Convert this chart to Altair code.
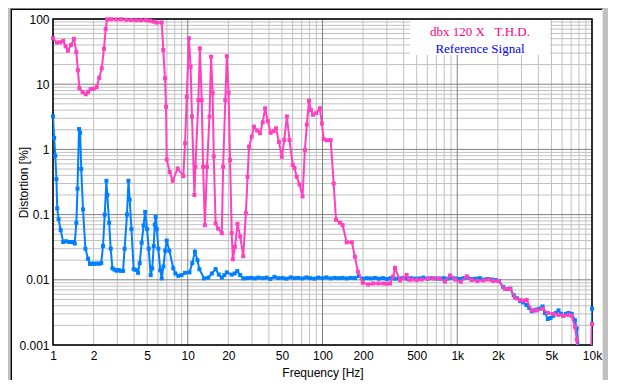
import altair as alt
import pandas as pd

# ---------------- data ----------------
blue_freq = [1.00, 1.02, 1.04, 1.06, 1.075, 1.10, 1.14, 1.19, 1.25, 1.32, 1.39, 1.45, 1.49, 1.52,
             1.56, 1.59, 1.62, 1.67, 1.74, 1.82, 1.88, 1.95, 2.02, 2.10, 2.19, 2.28, 2.35, 2.42,
             2.49, 2.53, 2.61, 2.68, 2.76, 2.86, 2.96, 3.07, 3.18, 3.31, 3.40, 3.54, 3.63, 3.71,
             3.82, 3.97, 4.12, 4.28, 4.40, 4.55, 4.70, 4.83, 4.99, 5.13, 5.31, 5.45, 5.59, 5.69,
             5.78, 5.90, 6.05, 6.25, 6.41, 6.60, 6.80, 6.98, 7.30, 7.81, 8.10, 8.51, 9.00, 9.55,
             10.3, 10.8, 11.3, 11.8, 12.2, 13.2, 14.2, 15.1, 16.1, 17.0, 17.9, 18.7, 19.5, 21.2,
             22.3, 23.3, 24.5, 25.8, 27.5, 29.5, 31.5, 33.5, 36.0, 38.5, 41.0, 44.0, 47.0, 50.5,
             54.0, 58.0, 62.0, 66.0, 71.0, 76.0, 81.0, 87.0, 93.0, 100, 107, 115, 123, 132, 141,
             151, 162, 174, 186, 199, 213, 228, 245, 262, 281, 301, 322, 345, 370, 396, 424, 455,
             487, 522, 559, 599, 642, 688, 737, 790, 846, 906, 971, 1040, 1114, 1194, 1279, 1370,
             1468, 1573, 1685, 1805, 1934, 2040, 2190, 2340, 2480, 2620, 2780, 2930, 3080, 3270,
             3420, 3570, 3740, 3880, 4080, 4300, 4480, 4700, 4920, 5160, 5400, 5640, 5880, 6120,
             6400, 6680, 7060, 7470, 7700, 7950, 8100, 9850, 10000]
blue_thd = [3.2, 1.5, 0.8, 0.35, 0.125, 0.085, 0.058, 0.038, 0.039, 0.038, 0.038, 0.036, 0.075, 0.25,
            2.05, 1.8, 0.5, 0.12, 0.03, 0.021, 0.0175, 0.0178, 0.0175, 0.0178, 0.0176, 0.018, 0.033, 0.1,
            0.33, 0.2, 0.075, 0.03, 0.015, 0.0143, 0.0138, 0.0141, 0.0137, 0.0137, 0.03, 0.1, 0.33, 0.17,
            0.06, 0.0145, 0.0142, 0.0128, 0.018, 0.037, 0.068, 0.11, 0.06, 0.03, 0.0118, 0.015, 0.033, 0.07,
            0.092, 0.06, 0.03, 0.014, 0.0105, 0.016, 0.028, 0.04, 0.028, 0.015, 0.0125, 0.0115, 0.0118, 0.0128,
            0.013, 0.018, 0.027, 0.02, 0.0145, 0.0105, 0.0108, 0.0125, 0.0146, 0.012, 0.0108, 0.0118, 0.013, 0.012,
            0.0125, 0.0136, 0.0118, 0.0105, 0.0106, 0.0107, 0.0105, 0.0108, 0.0106, 0.0108, 0.0103, 0.0111, 0.0106, 0.0107,
            0.0104, 0.0109, 0.0106, 0.0107, 0.0105, 0.0109, 0.0106, 0.0104, 0.0108, 0.0106, 0.0109, 0.0105, 0.0107, 0.0106, 0.0107,
            0.0105, 0.0107, 0.0106, 0.0114, 0.0104, 0.0106, 0.0105, 0.0107, 0.0104, 0.0106, 0.0103, 0.0106, 0.0104, 0.0105, 0.0107, 0.0104, 0.0106,
            0.0104, 0.0105, 0.0108, 0.0104, 0.0106, 0.0105, 0.0104, 0.0106, 0.0104, 0.0108, 0.0105, 0.0103, 0.0106, 0.0108, 0.0103, 0.0104,
            0.0106, 0.0101, 0.0103, 0.0101, 0.0099, 0.0096, 0.0078, 0.0072, 0.0073, 0.0058, 0.0052, 0.0047, 0.0045, 0.0041,
            0.0037, 0.0033, 0.0034, 0.0035, 0.0036, 0.0039, 0.0031, 0.0025, 0.0026, 0.0028, 0.0031, 0.0034, 0.0030, 0.0028,
            0.0030, 0.0031, 0.0030, 0.0024, 0.0018, 0.0009, 0.0003, 0.0003, 0.0036]

pink_freq = [1.00, 1.07, 1.13, 1.19, 1.24, 1.29, 1.36, 1.43, 1.49, 1.53, 1.57, 1.66, 1.75, 1.82, 1.90,
             2.00, 2.11, 2.20, 2.30, 2.39, 2.46, 2.52, 2.70, 2.95, 3.20, 3.50, 3.80, 4.15, 4.50, 4.90,
             5.25, 5.60, 5.88, 6.41, 6.58, 6.78, 6.90, 6.98, 7.35, 7.73, 8.42, 9.27, 9.55, 9.83, 10.2,
             10.5, 10.75, 11.2, 11.4, 12.0, 12.3, 12.7, 13.0, 13.4, 13.9, 14.5, 14.9, 15.3, 15.6, 16.1,
             16.8, 17.9, 18.3, 19.0, 19.5, 20.1, 20.6, 21.2, 21.6, 22.4, 23.4, 24.5, 25.8, 27.0, 27.8,
             28.5, 29.8, 31.0, 32.7, 34.4, 36.0, 37.5, 39.3, 41.2, 43.2, 45.2, 47.5, 49.9, 52.0, 54.4,
             56.9, 60.1, 62.0, 64.3, 67.5, 71.1, 74.0, 76.5, 79.4, 82.0, 85.1, 90.0, 95.6, 99.0, 102,
             108, 115, 121, 126, 135, 141, 151, 165, 174, 183, 199, 219, 238, 260, 283, 300, 317, 334,
             345, 376, 398, 421, 440, 459, 500, 545, 610, 672, 736, 811, 884, 962, 1061, 1175, 1280,
             1409, 1561, 1700, 1852, 2017, 2262, 2465, 2684, 2920, 3100, 3276, 3566, 3876, 4310, 4700,
             5164, 5640, 6124, 6670, 7060, 7475, 7700, 7950, 9850, 10000]
pink_thd = [50.5, 43.5, 44.0, 46.0, 38.0, 32.6, 40.0, 49.4, 31.0, 16.4, 8.7, 7.6, 7.0, 7.6, 8.4,
            8.5, 9.0, 12.5, 17.5, 35.0, 70.0, 99.0, 99.0, 98.5, 99.0, 97.0, 96.5, 95.5, 95.5, 96.0,
            94.0, 91.0, 88.0, 88.5, 33.5, 12.3, 4.5, 0.70, 0.45, 0.33, 0.51, 0.39, 1.24, 6.4, 50.6,
            18.5, 3.2, 0.20, 0.54, 5.7, 35.5, 5.7, 0.54, 0.069, 0.54, 3.2, 26.4, 7.3, 0.78, 0.073,
            0.061, 0.052, 0.54, 5.7, 26.9, 7.3, 0.69, 0.052, 0.0206, 0.032, 0.072, 0.046, 0.023, 0.105, 0.38,
            1.10, 1.57, 2.23, 1.95, 1.77, 2.6, 4.27, 2.7, 1.80, 1.90, 2.10, 1.3, 0.77, 1.4, 3.2,
            1.39, 0.58, 0.52, 0.38, 0.29, 0.19, 0.98, 2.4, 5.6, 4.0, 3.4, 3.6, 4.27, 2.5, 1.43,
            1.38, 1.39, 0.3, 0.083, 0.075, 0.069, 0.0376, 0.0376, 0.0226, 0.0133, 0.0090, 0.0085, 0.0088, 0.0088, 0.0088, 0.0087, 0.0088, 0.0112,
            0.0152, 0.0098, 0.0105, 0.0119, 0.0100, 0.0101, 0.0099, 0.0101, 0.0105, 0.0105, 0.0105, 0.0094, 0.0117, 0.0101, 0.0093, 0.0113, 0.0099,
            0.0096, 0.0098, 0.0101, 0.0096, 0.0096, 0.0072, 0.0073, 0.0053, 0.0049, 0.0048, 0.0049, 0.0034, 0.0034, 0.0036, 0.0031,
            0.0030, 0.0029, 0.0028, 0.0029, 0.0028, 0.0019, 0.0012, 0.0003, 0.0003, 0.0021]

legend_labels = ["dbx 120 X\u00a0\u00a0 T.H.D.", "Reference Signal"]
x_tick_values = [1, 2, 5, 10, 20, 50, 100, 200, 500, 1000, 2000, 5000, 10000]
y_tick_values = [0.001, 0.01, 0.1, 1, 10, 100]

# grid positions (1..9 per decade)
x_minor = [m * 10 ** k for k in range(4) for m in range(2, 10)]
x_major = [1, 10, 100, 1000, 10000]
y_minor = [round(m * 10.0 ** k, 6) for k in range(-3, 2) for m in range(2, 10)]
y_major = y_tick_values

PINK = "#ff40c0"
BLUE = "#0080ff"
FONT = "Liberation Sans"

xscale = alt.Scale(type="log", domain=[1, 10000], nice=False)
yscale = alt.Scale(type="log", domain=[0.001, 100], nice=False)

xaxis = alt.Axis(
    values=x_tick_values,
    labelExpr="datum.value >= 1000 ? format(datum.value / 1000, '~g') + 'k' : format(datum.value, '~g')",
    grid=False, ticks=False, domain=False, zindex=1,
    labelFont=FONT, labelFontSize=12, labelColor="black", labelPadding=5,
    labelOverlap=False, labelFlush=False, labelBound=False,
    title="Frequency [Hz]", titleFont=FONT, titleFontSize=12, titleFontWeight="normal",
    titleColor="black", titleY=31, titleBaseline="alphabetic",
)
yaxis = alt.Axis(
    values=y_tick_values,
    labelExpr="format(datum.value, '~g')",
    grid=False, ticks=False, domain=False, zindex=1,
    labelFont=FONT, labelFontSize=12, labelColor="black", labelPadding=4,
    labelOverlap=False, labelFlush=False, labelBound=False,
    title="Distortion [%]", titleFont=FONT, titleFontSize=12, titleFontWeight="normal",
    titleColor="black", titleX=-26, titleY=163, titleAngle=270,
    titleAlign="center", titleBaseline="alphabetic",
)


def X(field):
    return alt.X(field, type="quantitative", scale=xscale, axis=xaxis)


def Y(field):
    return alt.Y(field, type="quantitative", scale=yscale, axis=yaxis)


one = pd.DataFrame({"k": [0]})

# white panel with a sunken frame, on the grey window background
panel = alt.Chart(one).mark_rect(color="white").encode(
    x=alt.value(-41), x2=alt.value(549), y=alt.value(-9), y2=alt.value(361))
frame_dark_left = alt.Chart(one).mark_rule(color="#808080", strokeWidth=1).encode(
    x=alt.value(-42.5), y=alt.value(-11), y2=alt.value(361))
frame_dark_top = alt.Chart(one).mark_rule(color="#808080", strokeWidth=1).encode(
    x=alt.value(-43), x2=alt.value(550), y=alt.value(-10.5))
frame_black_left = alt.Chart(one).mark_rule(color="black", strokeWidth=1).encode(
    x=alt.value(-41.5), y=alt.value(-10), y2=alt.value(361))
frame_black_top = alt.Chart(one).mark_rule(color="black", strokeWidth=1).encode(
    x=alt.value(-42), x2=alt.value(549), y=alt.value(-9.5))
frame_light_right = alt.Chart(one).mark_rule(color="#e8e8e8", strokeWidth=1).encode(
    x=alt.value(549.5), y=alt.value(-10), y2=alt.value(362))
frame_light_bottom = alt.Chart(one).mark_rule(color="#e8e8e8", strokeWidth=1).encode(
    x=alt.value(-42), x2=alt.value(550), y=alt.value(361.5))

grid_xminor = alt.Chart(pd.DataFrame({"gx": x_minor})).mark_rule(
    color="#c0c0c0", strokeWidth=1).encode(x=X("gx"))
grid_yminor = alt.Chart(pd.DataFrame({"gy": y_minor})).mark_rule(
    color="#c0c0c0", strokeWidth=1).encode(y=Y("gy"))
grid_xmajor = alt.Chart(pd.DataFrame({"gx": x_major})).mark_rule(
    color="#808080", strokeWidth=1).encode(x=X("gx"))
grid_ymajor = alt.Chart(pd.DataFrame({"gy": y_major})).mark_rule(
    color="#808080", strokeWidth=1).encode(y=Y("gy"))

# black border of the plot area
plot_frame = alt.Chart(one).mark_rect(fillOpacity=0, stroke="black", strokeWidth=1.5).encode(
    x=alt.value(0), x2=alt.value(539), y=alt.value(0), y2=alt.value(326))

blue_df = pd.DataFrame({"freq": blue_freq, "thd": blue_thd})
pink_df = pd.DataFrame({"freq": pink_freq, "thd": pink_thd})


def series_layers(df, color):
    base = alt.Chart(df).encode(x=X("freq"), y=Y("thd"))
    line = base.mark_line(color=color, strokeWidth=2, clip=True)
    pts = base.transform_filter("datum.thd >= 0.001").mark_point(
        shape="square", filled=True, size=16, color=color, opacity=1)
    return [line, pts]


legend_df = pd.DataFrame({"label": legend_labels})
legend_box = alt.Chart(one).mark_rect(color="white").encode(
    x=alt.value(357), x2=alt.value(497), y=alt.value(1), y2=alt.value(36))
legend_t1 = alt.Chart(legend_df).transform_filter(alt.datum.label == legend_labels[0]).mark_text(
    font="Liberation Serif", fontSize=13, color="#ff0080", align="center", baseline="alphabetic"
).encode(text="label:N", x=alt.value(427), y=alt.value(17))
legend_t2 = alt.Chart(legend_df).transform_filter(alt.datum.label == legend_labels[1]).mark_text(
    font="Liberation Serif", fontSize=13, color="#0000ff", align="center", baseline="alphabetic"
).encode(text="label:N", x=alt.value(427), y=alt.value(33.5))

chart = alt.layer(
    panel, frame_dark_left, frame_dark_top, frame_black_left, frame_black_top,
    frame_light_right, frame_light_bottom,
    grid_xminor, grid_yminor, grid_xmajor, grid_ymajor, plot_frame,
    *series_layers(blue_df, BLUE),
    *series_layers(pink_df, PINK),
    legend_box, legend_t1, legend_t2,
).properties(
    width=539, height=326,
    autosize=alt.AutoSizeParams(type="none"),
    padding={"left": 45, "top": 11, "right": 16, "bottom": 35},
    background="#c0c0c0",
).configure_view(
    strokeWidth=0
)

chart.save("out.html", embed_options={"renderer": "svg", "actions": False})
